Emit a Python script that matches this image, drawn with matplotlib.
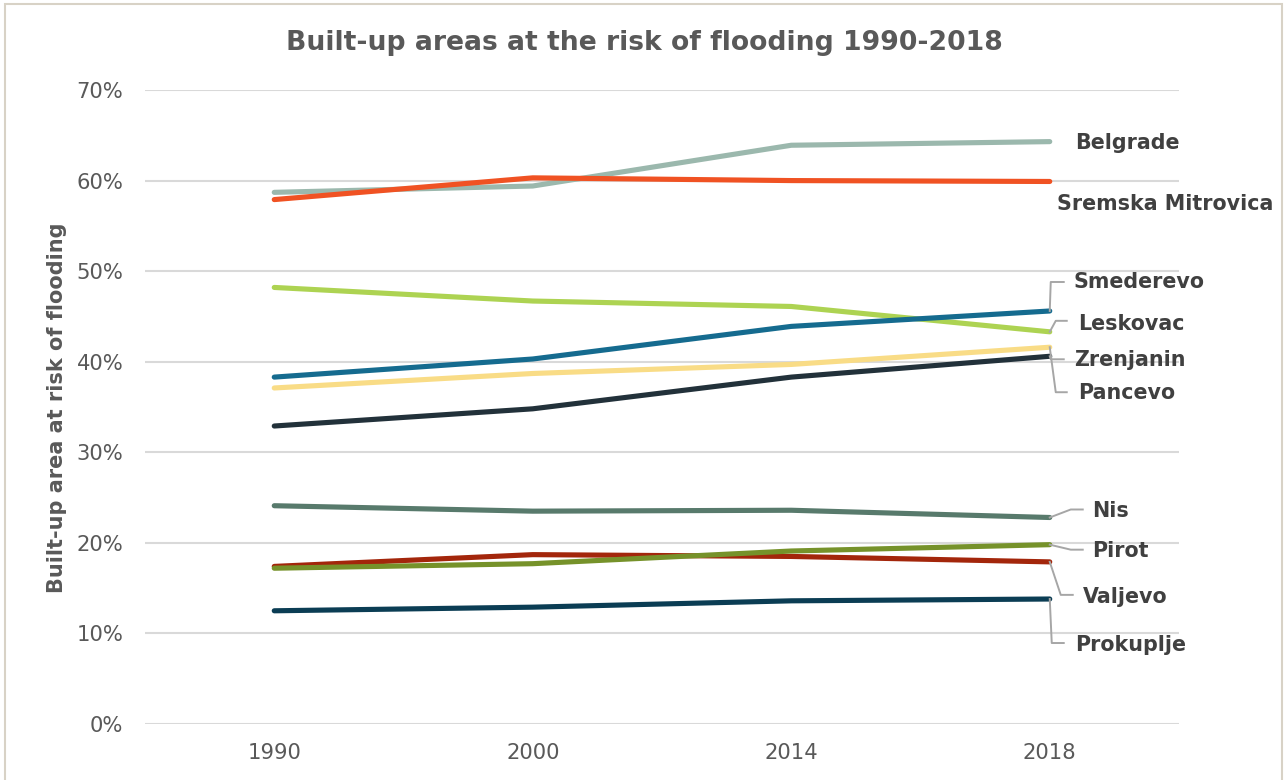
import matplotlib
matplotlib.use("Agg")
import matplotlib.pyplot as plt
from matplotlib.transforms import ScaledTranslation
from matplotlib.ticker import PercentFormatter
from matplotlib.patches import Rectangle

plt.rcParams['font.family'] = ['DejaVu Sans']

years = ["1990", "2000", "2014", "2018"]

belgrade = [0.587, 0.594, 0.639, 0.643]
sremska_mitrovica = [0.579, 0.603, 0.600, 0.599]
leskovac = [0.482, 0.467, 0.461, 0.433]
smederevo = [0.383, 0.403, 0.439, 0.456]
pancevo = [0.371, 0.387, 0.397, 0.416]
zrenjanin = [0.329, 0.348, 0.383, 0.406]
nis = [0.241, 0.235, 0.236, 0.228]
pirot = [0.172, 0.177, 0.191, 0.198]
valjevo = [0.174, 0.187, 0.185, 0.179]
prokuplje = [0.125, 0.129, 0.136, 0.138]

series = [
    ("Belgrade", belgrade, "#9bb8ad"),
    ("Sremska Mitrovica", sremska_mitrovica, "#f05223"),
    ("Leskovac", leskovac, "#add352"),
    ("Smederevo", smederevo, "#156b8f"),
    ("Pancevo", pancevo, "#f9dc86"),
    ("Zrenjanin", zrenjanin, "#22313a"),
    ("Nis", nis, "#587a6c"),
    ("Valjevo", valjevo, "#a3260b"),
    ("Pirot", pirot, "#76922a"),
    ("Prokuplje", prokuplje, "#0b3d54"),
]

# label placement relative to the last point, in pixels (x right, y down),
# plus optional leader elbow points
label_layout = {
    "Belgrade": ((25, 1), None),
    "Sremska Mitrovica": ((7, 23), None),
    "Smederevo": ((24, -29), [(1, -29), (14, -29)]),
    "Leskovac": ((28, -8), [(6, -11), (17, -11)]),
    "Zrenjanin": ((24, 4), [(1, 3), (14, 3)]),
    "Pancevo": ((28, 46), [(6, 45), (17, 45)]),
    "Nis": ((42, -6), [(21, -8), (33, -8)]),
    "Pirot": ((42, 6), [(21, 5), (33, 5)]),
    "Valjevo": ((33, 35), [(11, 33), (23, 33)]),
    "Prokuplje": ((25, 46), [(2, 44), (14, 44)]),
}

W, H = 1284, 780
fig = plt.figure(figsize=(W / 100, H / 100), dpi=100)
ax = fig.add_axes([145 / W, 56 / H, (1179 - 145) / W, (724 - 90) / H])

x = list(range(len(years)))
for name, vals, color in series:
    ax.plot(x, vals, color=color, lw=3.7, solid_capstyle="round",
            solid_joinstyle="round", zorder=3)

ax.set_xlim(-0.5, len(years) - 0.5)
ax.set_ylim(0, 0.7)
ax.set_yticks([i / 10 for i in range(8)])
ax.yaxis.set_major_formatter(PercentFormatter(1.0, decimals=0))
ax.set_xticks(x)
ax.set_xticklabels(years)
ax.grid(axis="y", color="#d9d9d9", lw=1.5, zorder=0)
ax.set_axisbelow(True)
for s in ax.spines.values():
    s.set_visible(False)
ax.tick_params(axis="both", length=0, labelsize=15.2, labelcolor="#595959")
ax.tick_params(axis="y", pad=15.5)
ax.tick_params(axis="x", pad=13.5)

fig.text(644 / W, 1 - 43 / H, "Built-up areas at the risk of flooding 1990-2018",
         ha="center", va="center", fontsize=19.2, fontweight="bold", color="#595959")
fig.text(57 / W, 1 - 408 / H, "Built-up area at risk of flooding", rotation=90,
         ha="center", va="center", fontsize=15, fontweight="bold", color="#595959")


def px_offset(dx, dy):
    return ax.transData + ScaledTranslation(dx / 100, -dy / 100, fig.dpi_scale_trans)


last = len(years) - 1
for name, vals, color in series:
    (tx, ty), elbow = label_layout[name]
    if elbow:
        pts = [(0, 0)] + elbow
        base = ax.transData.transform((last, vals[last]))
        fx = [(base[0] + dx) / W for dx, dy in pts]
        fy = [(base[1] - dy) / H for dx, dy in pts]
        fig.add_artist(plt.Line2D(fx, fy, color="#a6a6a6", lw=1.4, zorder=2))
    ax.text(last, vals[last], name, transform=px_offset(tx, ty), ha="left",
            va="center", fontsize=14.9, fontweight="bold", color="#404040",
            clip_on=False)

fig.add_artist(Rectangle((5 / W, -0.01), (1282 - 5) / W, 1 - 4 / H + 0.01,
                         transform=fig.transFigure, fill=False,
                         edgecolor="#d8d2c6", lw=1.5))

fig.savefig("out.png", dpi=100)
